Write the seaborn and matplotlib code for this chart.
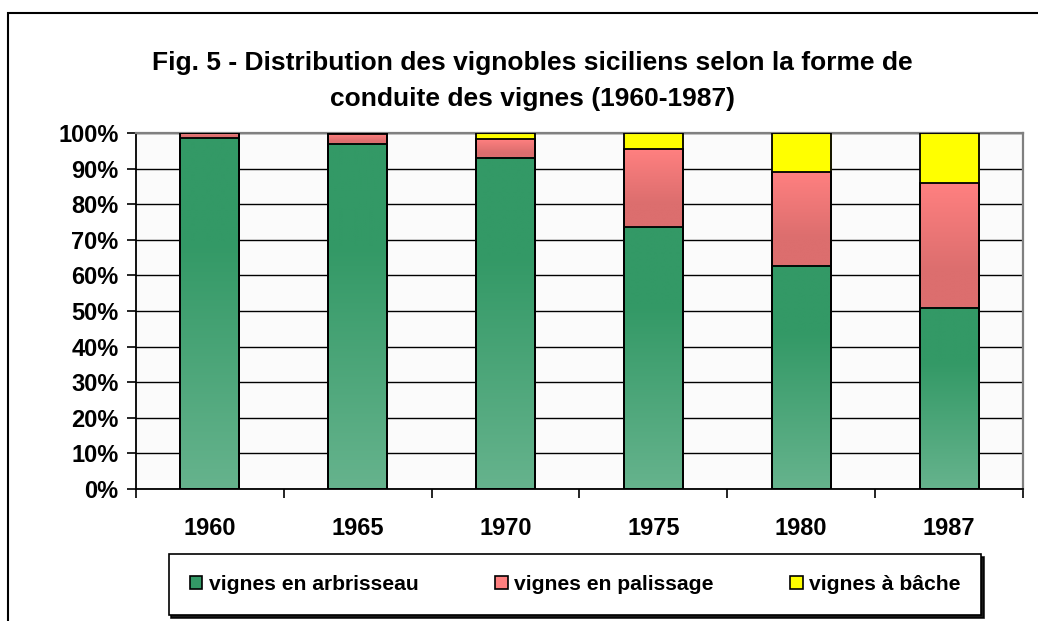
import numpy as np
import pandas as pd
import seaborn as sns
import matplotlib.pyplot as plt
from matplotlib.patches import Rectangle, Patch
from matplotlib.colors import to_rgb

years = ["1960", "1965", "1970", "1975", "1980", "1987"]
arbrisseau = [98.5, 97.0, 93.1, 73.5, 62.7, 50.9]
palissage = [1.5, 2.7, 5.1, 21.9, 26.4, 35.0]
bache = [0.0, 0.3, 1.8, 4.6, 10.9, 14.1]
names = ["vignes en arbrisseau", "vignes en palissage", "vignes à bâche"]
colors = ["#339966", "#FF8080", "#FFFF00"]

sns.set_theme(style="white")
plt.rcParams["font.family"] = ["Liberation Sans", "DejaVu Sans"]
plt.rcParams["font.weight"] = "bold"
plt.rcParams["text.color"] = "black"
plt.rcParams["xtick.color"] = "black"
plt.rcParams["ytick.color"] = "black"

# cumulative tops, drawn back to front
top1 = np.array(arbrisseau)
top2 = top1 + np.array(palissage)
top3 = top2 + np.array(bache)

df = pd.DataFrame({
    "year": years * 3,
    "serie": [names[2]] * 6 + [names[1]] * 6 + [names[0]] * 6,
    "cum": list(top3) + list(top2) + list(top1),
})

fig = plt.figure(figsize=(10.38, 6.21), dpi=100)
ax = fig.add_axes([136 / 1038, 1 - 489 / 621, (1023 - 136) / 1038, (489 - 133) / 621])
ax.set_facecolor("#FBFBFB")

sns.barplot(data=df, x="year", y="cum", hue="serie",
            hue_order=[names[2], names[1], names[0]],
            palette=[colors[2], colors[1], colors[0]],
            dodge=False, width=0.4, saturation=1, edgecolor="black",
            linewidth=1.3, legend=False, ax=ax)

# vertical gradients like the old spreadsheet fill
grads = {
    names[0]: ("#339966", "#66B38D", "top"),
    names[1]: ("#FF8080", "#DC6E6E", "bottom"),
    names[2]: ("#FFFF00", "#FFFF00", "top"),
}
lows = {names[2]: top2, names[1]: top1, names[0]: np.zeros(6)}
t = np.linspace(0, 1, 200)  # 0 = bottom, 1 = top
for cont, name in zip(ax.containers, [names[2], names[1], names[0]]):
    c_top, c_bot, flat = grads[name]
    if flat == "top":
        f = np.clip(t / 0.7, 0, 1)
    else:
        f = np.clip((t - 0.3) / 0.7, 0, 1)
    img = (np.array(to_rgb(c_bot))[None, :] * (1 - f[:, None])
           + np.array(to_rgb(c_top))[None, :] * f[:, None])[:, None, :]
    for p, lo in zip(cont.patches, lows[name]):
        if p.get_height() <= 0:
            continue
        x0 = p.get_x()
        ax.imshow(img, extent=[x0, x0 + p.get_width(), lo, p.get_height()],
                  origin="lower", aspect="auto", zorder=2, interpolation="bilinear")
        p.set_facecolor("none")
        p.set_zorder(3)

ax.set_xlim(-0.5, 5.5)
ax.set_ylim(0, 100)
ax.set_yticks(np.arange(0, 101, 10))
ax.set_yticklabels([f"{v}%" for v in range(0, 101, 10)])
ax.set_xticks(np.arange(-0.5, 6, 1), minor=True)
ax.grid(axis="y", color="black", lw=1)
ax.set_axisbelow(True)
ax.set_xlabel("")
ax.set_ylabel("")
ax.tick_params(axis="x", which="major", length=0, pad=20, labelsize=17)
ax.tick_params(axis="x", which="minor", length=6.5, width=1.2, color="black",
               direction="out", bottom=True)
ax.tick_params(axis="y", length=6.5, width=1.2, color="black", direction="out",
               left=True, pad=6, labelsize=17)
for s in ["left", "bottom"]:
    ax.spines[s].set_color("black")
    ax.spines[s].set_linewidth(1.3)
for s in ["top", "right"]:
    ax.spines[s].set_color("#808080")
    ax.spines[s].set_linewidth(1.6)

fig.text(532 / 1038, 1 - 81 / 621,
         "Fig. 5 - Distribution des vignobles siciliens selon la forme de\n"
         "conduite des vignes (1960-1987)",
         ha="center", va="center", fontsize=19, fontweight="bold",
         color="black", linespacing=1.6)

handles = [Patch(facecolor=c, edgecolor="black", lw=1.2) for c in colors]
leg = fig.legend(handles, names, loc="center", mode="expand", ncol=3,
                 bbox_to_anchor=(158 / 1038, 1 - 616 / 621, 834 / 1038, 63 / 621),
                 prop={"size": 15.2, "weight": "bold"}, frameon=True,
                 fancybox=False, shadow={"color": "black", "alpha": 0.9},
                 borderpad=1.0, handlelength=0.6, handleheight=0.6,
                 handletextpad=0.3, labelcolor="black")
leg.get_frame().set_edgecolor("black")
leg.get_frame().set_linewidth(1.2)

fig.patches.append(Rectangle((8 / 1038, -0.1), 1.2, 1.1 - 13 / 621,
                             transform=fig.transFigure, fill=False,
                             edgecolor="black", lw=1.5, clip_on=False))

fig.savefig("out.png", dpi=100)
